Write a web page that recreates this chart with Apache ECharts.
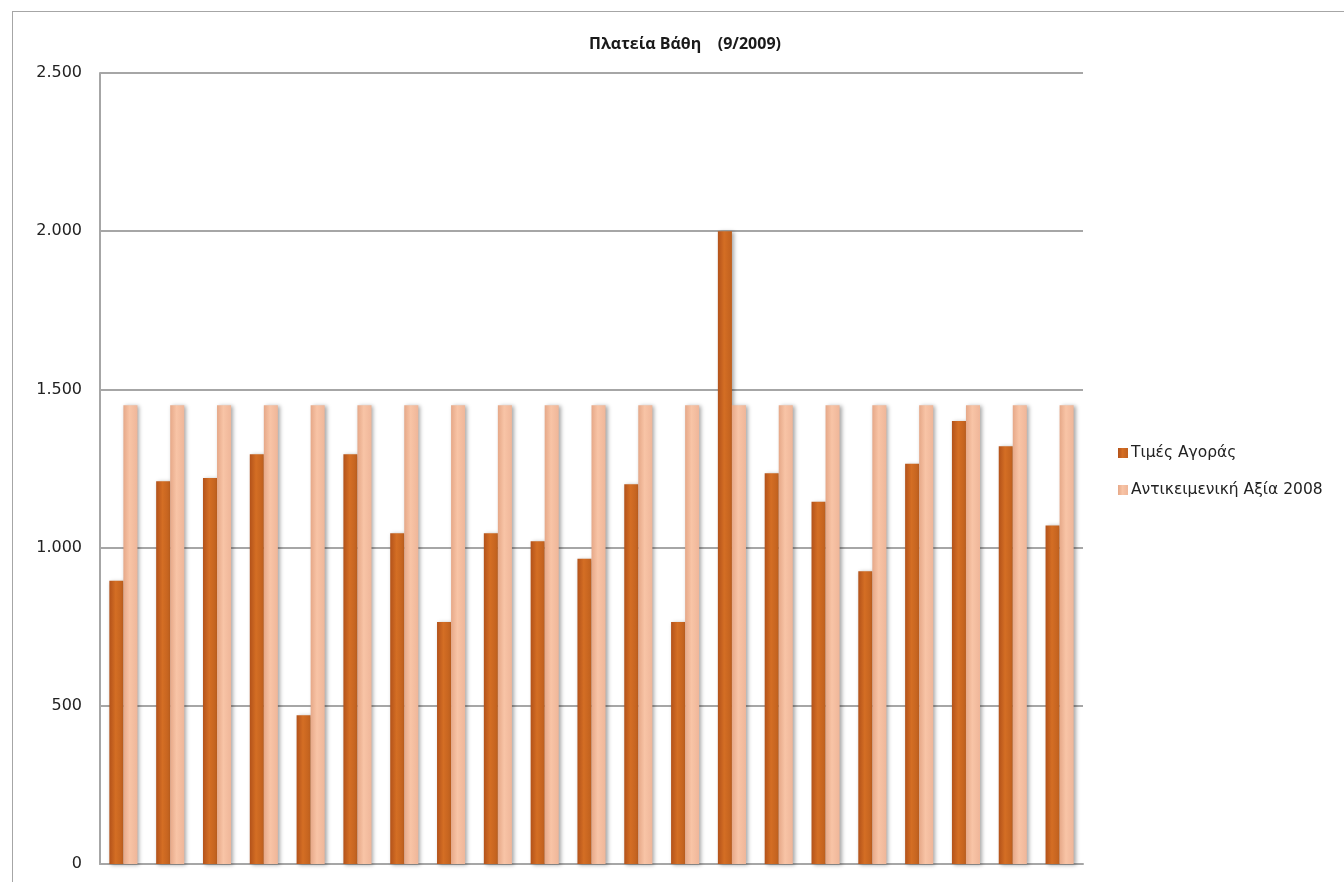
<!DOCTYPE html>
<html>
<head>
<meta charset="utf-8">
<title>Πλατεία Βάθη (9/2009)</title>
<script src="https://cdn.jsdelivr.net/npm/echarts@6/dist/echarts.min.js"></script>
<style>
  html, body { margin: 0; padding: 0; background: #ffffff; }
  #frame { position: absolute; left: 12px; top: 11px; width: 1400px; height: 900px;
           border-left: 1px solid #a6a6a6; border-top: 1px solid #a6a6a6; }
  #chart { position: absolute; left: 0; top: 0; width: 1344px; height: 882px; }
</style>
</head>
<body>
<div id="frame"></div>
<div id="chart"></div>
<script>
// Properties along the square (no names shown on the axis)
const categories = ['1','2','3','4','5','6','7','8','9','10','11','12','13','14','15','16','17','18','19','20','21'];
// Market prices (€/m²)
const marketPrices = [895, 1210, 1220, 1295, 470, 1295, 1045, 765, 1045, 1020, 965, 1200, 765, 2000, 1235, 1145, 925, 1265, 1400, 1320, 1070];
// Objective value 2008 (€/m²)
const objectiveValue = [1450, 1450, 1450, 1450, 1450, 1450, 1450, 1450, 1450, 1450, 1450, 1450, 1450, 1450, 1450, 1450, 1450, 1450, 1450, 1450, 1450];
const seriesNames = ['Τιμές Αγοράς', 'Αντικειμενική Αξία 2008'];
const titleText = 'Πλατεία Βάθη    (9/2009)';

const fmt = v => String(v).replace(/\B(?=(\d{3})+(?!\d))/g, '.');

function hGrad(a, b, c) {
  return new echarts.graphic.LinearGradient(0, 0, 1, 0, [
    { offset: 0, color: a }, { offset: 0.45, color: b }, { offset: 1, color: c }
  ]);
}

const chart = echarts.init(document.getElementById('chart'), null, { renderer: 'canvas' });
chart.setOption({
  animation: false,
  backgroundColor: 'transparent',
  title: {
    text: titleText,
    left: 680, top: 31, textAlign: 'center',
    textStyle: { fontFamily: 'Open Sans', fontWeight: 'bold', fontSize: 16, color: '#1a1a1a' }
  },
  legend: {
    orient: 'vertical', left: 1113, top: 440,
    itemWidth: 10, itemHeight: 10, itemGap: 21,
    icon: 'rect',
    textStyle: { fontFamily: 'DejaVu Sans', fontSize: 15.5, color: '#222', padding: [0, 0, 0, -2] },
    data: seriesNames
  },
  grid: { left: 100, right: 261, top: 73, bottom: 18, containLabel: false },
  xAxis: {
    type: 'category', data: categories,
    axisLine: { show: true, lineStyle: { color: '#a6a6a6', width: 2 } },
    axisTick: { show: false }, axisLabel: { show: false }
  },
  yAxis: {
    type: 'value', min: 0, max: 2500, interval: 500,
    axisLine: { show: true, lineStyle: { color: '#a6a6a6', width: 2 } },
    axisTick: { show: false },
    axisLabel: { formatter: fmt, margin: 18, fontFamily: 'DejaVu Sans', fontSize: 16, color: '#222' },
    splitLine: { lineStyle: { color: '#a6a6a6', width: 2 } }
  },
  series: [
    {
      name: seriesNames[0], type: 'bar', data: marketPrices,
      barGap: '0%', barCategoryGap: '40%',
      itemStyle: {
        color: hGrad('#b3521a', '#d46e24', '#c0601e'),
        shadowColor: 'rgba(0,0,0,0.35)', shadowBlur: 4, shadowOffsetX: 2, shadowOffsetY: 1
      }
    },
    {
      name: seriesNames[1], type: 'bar', data: objectiveValue,
      itemStyle: {
        color: hGrad('#e6a888', '#f8c4a6', '#efb699'),
        shadowColor: 'rgba(0,0,0,0.35)', shadowBlur: 4, shadowOffsetX: 2, shadowOffsetY: 1
      }
    }
  ]
});
</script>
</body>
</html>
